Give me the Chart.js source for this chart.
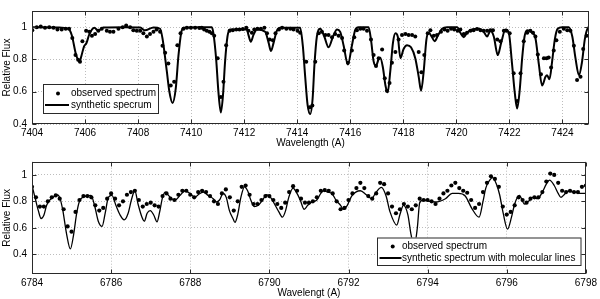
<!DOCTYPE html>
<html><head><meta charset="utf-8">
<script src="https://cdn.jsdelivr.net/npm/chart.js@4.4.0/dist/chart.umd.min.js"></script>
<style>
html,body{margin:0;padding:0;background:#fff;width:600px;height:299px;overflow:hidden}
.box{position:absolute;left:0;width:600px}
</style></head><body>
<div class="box" style="top:0;height:150px"><canvas id="c1"></canvas></div>
<div class="box" style="top:150px;height:149px"><canvas id="c2"></canvas></div>
<script>
// ---------- DATA ----------
const topXTicks = [7404,7406,7408,7410,7412,7414,7416,7418,7420,7422,7424];
const topYTicks = [0.4,0.6,0.8,1];
const topYLabels = ['0.4','0.6','0.8','1'];
const botXTicks = [6784,6786,6788,6790,6792,6794,6796,6798];
const botYTicks = [0.4,0.6,0.8,1];
const botYLabels = ['0.4','0.6','0.8','1'];

const topObsWl = [7404.01,7404.18,7404.33,7404.49,7404.65,7404.81,7404.96,7405.12,7405.27,7405.40,7405.52,7405.64,7405.74,7405.81,7405.90,7406.04,7406.16,7406.26,7406.38,7406.50,7406.63,7406.82,7406.94,7407.07,7407.26,7407.42,7407.55,7407.70,7407.82,7407.95,7408.08,7408.20,7408.33,7408.45,7408.58,7408.70,7408.83,7408.92,7409.02,7409.14,7409.23,7409.36,7409.48,7409.60,7409.71,7409.84,7409.99,7410.15,7410.31,
7410.40,7410.49,7410.59,7410.69,7410.78,7410.87,7411.00,7411.12,7411.22,7411.32,7411.45,7411.57,7411.70,7411.82,7411.95,7412.08,7412.16,7412.29,7412.38,7412.50,7412.63,7412.76,7412.86,7412.96,7413.08,7413.18,7413.31,7413.43,7413.59,7413.74,7413.86,7414.01,7414.11,7414.34,7414.47,7414.57,7414.68,7414.81,7414.93,7415.06,7415.18,7415.31,7415.43,7415.56,7415.69,7415.77,7415.91,7416.06,7416.15,7416.25,7416.38,7416.50,7416.63,7416.78,7416.88,7416.97,7417.07,7417.20,7417.30,7417.38,7417.48,7417.57,7417.70,7417.82,
7417.95,7418.08,7418.20,7418.33,7418.45,7418.58,7418.68,7418.79,7418.92,7419.02,7419.15,7419.27,7419.42,7419.55,7419.67,7419.80,7419.92,7420.05,7420.15,7420.28,7420.40,7420.53,7420.65,7420.78,7420.91,7421.03,7421.16,7421.28,7421.38,7421.54,7421.66,7421.79,7421.89,7422.01,7422.16,7422.29,7422.42,7422.54,7422.67,7422.79,7422.89,7422.98,7423.07,7423.19,7423.30,7423.40,7423.48,7423.57,7423.67,7423.77,7423.90,7424.05,7424.18,7424.30,7424.43,7424.55,7424.68,7424.78,7424.91];
const topObsFlux = [0.981,1.0,1.004,0.996,1.0,0.996,0.985,0.985,0.99,0.99,0.933,0.827,0.798,0.785,0.913,0.977,0.971,0.946,0.958,0.977,0.99,0.977,0.971,0.971,0.99,1.0,1.01,1.0,0.981,0.977,0.977,0.962,0.942,0.958,0.971,0.985,0.971,0.885,0.842,0.775,0.638,0.662,0.888,0.962,0.99,0.996,0.996,0.996,0.994,
0.996,0.985,0.977,0.971,0.962,0.946,0.808,0.567,0.662,0.888,0.977,0.981,0.985,0.985,0.988,0.996,0.977,0.965,0.985,0.99,0.99,0.996,0.962,0.923,0.919,0.962,0.985,0.996,0.99,0.99,0.985,0.977,0.965,0.785,0.504,0.515,0.785,0.962,0.971,0.952,0.952,0.938,0.958,0.946,0.933,0.856,0.779,0.856,0.938,0.981,0.99,0.99,0.977,0.923,0.827,0.76,0.808,0.862,0.683,0.606,0.654,0.779,0.846,0.923,
0.952,0.958,0.952,0.952,0.942,0.846,0.721,0.827,0.962,0.981,0.946,0.952,0.971,0.985,0.977,0.99,0.985,0.977,0.985,0.958,0.965,0.977,0.981,0.988,0.981,0.977,0.977,0.981,0.981,0.923,0.913,0.977,0.977,0.962,0.715,0.542,0.715,0.913,0.965,0.977,0.965,0.942,0.831,0.708,0.808,0.808,0.812,0.75,0.856,0.919,0.971,0.99,0.981,0.977,0.885,0.673,0.692,0.865,0.946];

const topSynWl = [7404.0,7405.0,7405.37,7405.5,7405.66,7405.79,7405.86,7405.96,7406.05,7406.16,7406.35,7406.5,7406.69,7407.5,7408.08,7408.26,7408.58,7408.83,7408.92,7409.08,7409.18,7409.30,7409.42,7409.52,7409.62,7409.71,7410.3,
7410.78,7410.84,7410.94,7411.03,7411.12,7411.20,7411.28,7411.37,7411.47,7411.60,7412.10,7412.16,7412.25,7412.35,7412.48,7412.79,7412.92,7413.01,7413.11,7413.23,7413.36,7414.11,7414.21,7414.30,7414.39,7414.49,7414.58,7414.65,7414.74,7414.87,7415.02,7415.18,7415.35,7415.50,7415.62,7415.75,7415.91,7416.06,7416.19,7416.31,7416.69,7416.78,7416.88,7416.97,7417.06,7417.13,7417.23,7417.33,7417.41,7417.51,7417.61,7417.70,7417.79,
7417.89,7418.01,7418.14,7418.29,7418.45,7418.58,7418.67,7418.77,7418.87,7418.96,7419.08,7419.18,7419.30,7419.46,7419.65,7420.03,7420.15,7420.28,7420.40,7420.59,7420.84,7421.03,7421.16,7421.28,7421.41,7421.56,7421.69,7421.85,7421.98,7422.10,7422.20,7422.29,7422.39,7422.48,7422.57,7422.67,7422.86,7422.98,7423.11,7423.23,7423.36,7423.42,7423.51,7423.61,7423.71,7423.82,7423.99,7424.24,7424.37,7424.49,7424.62,7424.74,7424.84,7424.96,7425.0];
const topSynFlux = [1.0,0.998,0.99,0.95,0.83,0.785,0.82,0.88,0.9,0.955,0.996,0.978,0.998,1.0,0.998,0.98,0.998,0.99,0.93,0.73,0.60,0.53,0.62,0.82,0.96,0.996,1.0,
1.0,0.962,0.808,0.596,0.471,0.577,0.788,0.942,0.985,0.985,0.985,0.952,0.91,0.952,0.985,0.971,0.904,0.852,0.904,0.977,0.996,0.996,0.885,0.692,0.519,0.462,0.558,0.769,0.942,0.99,0.942,0.875,0.942,0.985,0.971,0.885,0.769,0.885,0.985,1.0,1.0,0.923,0.788,0.76,0.798,0.81,0.75,0.635,0.596,0.731,0.904,0.962,0.942,
0.808,0.865,0.888,0.875,0.808,0.692,0.606,0.731,0.923,0.965,0.938,0.913,0.946,0.99,1.0,1.0,0.965,0.938,0.965,0.985,0.99,0.971,0.942,0.977,0.942,0.827,0.904,0.985,0.962,0.769,0.596,0.496,0.615,0.808,0.942,0.981,0.965,0.933,0.769,0.638,0.692,0.702,0.677,0.788,0.923,0.99,1.0,1.0,0.942,0.808,0.702,0.788,0.923,0.996,1.0];

const botObsWl = [6784.0,6784.1,6784.2,6784.3,6784.4,6784.5,6784.6,6784.7,6784.8,6784.9,6785.0,6785.1,6785.2,6785.3,6785.4,6785.5,6785.6,6785.7,6785.8,6785.9,6786.0,6786.1,6786.2,6786.3,6786.4,6786.5,6786.6,6786.7,6786.8,6786.9,6787.0,6787.1,6787.2,6787.3,6787.4,6787.5,6787.6,6787.7,6787.8,6787.9,6788.0,6788.1,6788.2,6788.3,6788.4,6788.5,6788.6,6788.7,6788.8,6788.9,6789.0,6789.1,6789.2,6789.3,6789.4,6789.5,6789.6,6789.7,6789.8,6789.9,6790.0,6790.1,6790.2,6790.3,6790.4,6790.5,6790.6,6790.7,6790.8,6790.9,6791.0,6791.1,6791.2,6791.3,6791.4,6791.5,6791.6,6791.7,6791.8,6791.9,6792.0,6792.1,6792.2,6792.3,6792.4,6792.5,6792.6,6792.7,6792.8,6792.9,6793.0,6793.1,6793.2,6793.3,6793.4,6793.5,6793.6,6793.7,6793.8,6793.9,6794.0,6794.1,6794.2,6794.3,6794.4,6794.5,6794.6,6794.7,6794.8,6794.9,6795.0,6795.1,6795.2,6795.3,6795.4,6795.5,6795.6,6795.7,6795.8,6795.9,6796.0,6796.1,6796.2,6796.3,6796.4,6796.5,6796.6,6796.7,6796.8,6796.9,6797.0,6797.1,6797.2,6797.3,6797.4,6797.5,6797.6,6797.7,6797.8,6797.9,6798.0];
const botObsFlux = [0.91,0.83,0.76,0.76,0.80,0.83,0.845,0.82,0.74,0.61,0.57,0.72,0.81,0.84,0.84,0.83,0.77,0.73,0.75,0.82,0.86,0.82,0.77,0.80,0.85,0.87,0.88,0.81,0.76,0.78,0.79,0.77,0.76,0.84,0.86,0.82,0.81,0.85,0.88,0.88,0.85,0.83,0.87,0.88,0.87,0.84,0.80,0.78,0.86,0.89,0.83,0.73,0.80,0.91,0.92,0.85,0.78,0.78,0.81,0.84,0.84,0.81,0.78,0.75,0.79,0.87,0.915,0.88,0.82,0.79,0.79,0.80,0.83,0.88,0.885,0.88,0.86,0.80,0.74,0.75,0.81,0.86,0.90,0.94,0.90,0.84,0.82,0.86,0.94,0.93,0.86,0.76,0.71,0.74,0.78,0.76,0.74,0.77,0.82,0.81,0.81,0.80,0.78,0.82,0.86,0.88,0.92,0.94,0.90,0.88,0.865,0.81,0.75,0.78,0.87,0.94,0.99,0.97,0.91,0.76,0.70,0.72,0.77,0.83,0.81,0.79,0.82,0.83,0.83,0.87,0.95,1.01,1.0,0.94,0.88,0.87,0.88,0.87,0.87,0.91,0.92];

const botSynWl = [6784.0,6784.075,6784.16,6784.23,6784.30,6784.37,6784.45,6784.53,6784.63,6784.70,6784.78,6784.87,6784.97,6785.05,6785.13,6785.2,6785.28,6785.38,6785.49,6785.58,6785.68,6785.77,6785.85,6785.93,6786.02,6786.12,6786.22,6786.33,6786.43,6786.52,6786.6,6786.68,6786.78,6786.84,6786.91,6786.99,6787.08,6787.16,6787.22,6787.3,6787.37,6787.45,6787.53,6787.62,6787.74,6787.87,6787.99,6788.12,
6788.2,6788.33,6788.45,6788.58,6788.66,6788.74,6788.83,6788.91,6788.99,6789.08,6789.13,6789.2,6789.28,6789.37,6789.45,6789.53,6789.62,6789.72,6789.83,6789.93,6790.03,6790.13,6790.24,6790.33,6790.41,6790.49,6790.6,6790.68,6790.78,6790.88,6790.97,6791.08,6791.2,6791.3,6791.37,6791.47,6791.58,6791.68,6791.8,6791.87,6791.97,6792.08,6792.3,6792.45,6792.58,6792.7,6792.83,6792.95,6793.05,6793.22,6793.3,6793.39,6793.5,6793.58,6793.66,6793.74,6793.8,6793.9,6794.05,6794.2,6794.45,6794.62,6794.78,6794.95,6795.12,6795.3,6795.4,6795.47,6795.57,6795.64,6795.74,6795.82,6795.91,6796.02,6796.12,6796.2,6796.32,6796.45,6796.55,6796.66,6796.78,6796.9,6797.0,6797.08,6797.2,6797.3,6797.37,6797.45,6797.53,6797.7,6797.85,6798.0];
const botSynFlux = [0.92,0.83,0.73,0.67,0.695,0.77,0.81,0.83,0.85,0.83,0.73,0.56,0.44,0.545,0.71,0.80,0.83,0.84,0.845,0.77,0.645,0.61,0.71,0.83,0.845,0.77,0.70,0.66,0.71,0.82,0.88,0.78,0.68,0.65,0.71,0.73,0.695,0.645,0.71,0.83,0.87,0.845,0.82,0.81,0.845,0.88,0.86,0.83,
0.85,0.87,0.845,0.82,0.795,0.81,0.86,0.83,0.73,0.67,0.64,0.70,0.83,0.91,0.88,0.81,0.76,0.77,0.81,0.85,0.83,0.78,0.72,0.68,0.73,0.83,0.90,0.87,0.81,0.74,0.77,0.795,0.81,0.86,0.88,0.87,0.86,0.81,0.77,0.74,0.77,0.84,0.88,0.85,0.82,0.87,0.905,0.84,0.72,0.62,0.70,0.77,0.70,0.55,0.46,0.60,0.79,0.81,0.80,0.795,0.82,0.86,0.86,0.84,0.745,0.68,0.80,0.90,0.96,0.98,0.93,0.85,0.71,0.59,0.68,0.78,0.845,0.78,0.80,0.83,0.82,0.87,0.93,0.96,0.92,0.86,0.83,0.85,0.875,0.87,0.86,0.86];

// ---------- RENDER ----------
Chart.defaults.font.family = '"Liberation Sans", Arial, Helvetica, sans-serif';
Chart.defaults.font.size = 10;
Chart.defaults.color = '#000';

const pts = (xs, ys) => xs.map((x, i) => ({x, y: ys[i]}));

const framePlugin = {
  id: 'frame',
  afterDatasetsDraw(chart) {
    const {ctx, chartArea: a, scales} = chart;
    ctx.save();
    ctx.strokeStyle = '#2a2a2a';
    ctx.lineWidth = 1;
    const L = Math.round(a.left) + 0.5, R = Math.round(a.right) - 0.5;
    const T = Math.round(a.top) + 0.5, B = Math.round(a.bottom) - 0.5;
    ctx.strokeRect(L, T, R - L, B - T);
    ctx.beginPath();
    scales.x.ticks.forEach(t => {
      const p = Math.round(scales.x.getPixelForValue(t.value)) + 0.5;
      ctx.moveTo(p, B); ctx.lineTo(p, B - 4);
      ctx.moveTo(p, T); ctx.lineTo(p, T + 4);
    });
    scales.y.ticks.forEach(t => {
      const p = Math.round(scales.y.getPixelForValue(t.value)) + 0.5;
      ctx.moveTo(L, p); ctx.lineTo(L + 4, p);
      ctx.moveTo(R, p); ctx.lineTo(R - 4, p);
    });
    ctx.stroke();
    ctx.restore();
  },
  afterDraw(chart) {
    const lg = chart.options.plugins.frame.legend;
    if (!lg) return;
    const ctx = chart.ctx;
    ctx.save();
    ctx.fillStyle = '#fff';
    ctx.fillRect(lg.x, lg.y, lg.w, lg.h);
    ctx.strokeStyle = '#2a2a2a';
    ctx.lineWidth = 1;
    ctx.strokeRect(lg.x + 0.5, lg.y + 0.5, lg.w, lg.h);
    ctx.font = '10px "Liberation Sans", Arial, Helvetica, sans-serif';
    ctx.fillStyle = '#000';
    ctx.textBaseline = 'middle';
    ctx.fillText(lg.t1, lg.tx, lg.r1);
    ctx.fillText(lg.t2, lg.tx, lg.r2);
    ctx.beginPath();
    ctx.arc(lg.dx, lg.r1, 2, 0, Math.PI * 2);
    ctx.fill();
    ctx.strokeStyle = '#000';
    ctx.lineWidth = lg.lw;
    ctx.beginPath();
    ctx.moveTo(lg.l1, lg.r2); ctx.lineTo(lg.l2, lg.r2);
    ctx.stroke();
    ctx.restore();
  }
};

function makeChart(id, cfg) {
  return new Chart(document.getElementById(id), {
    type: 'scatter',
    data: {
      datasets: [
        {label: cfg.obsLabel, data: pts(cfg.obsX, cfg.obsY), showLine: false,
         pointRadius: cfg.pr, pointBackgroundColor: '#000', pointBorderWidth: 0, order: 1},
        {label: cfg.synLabel, data: pts(cfg.synX, cfg.synY), showLine: true,
         borderColor: '#000', borderWidth: cfg.lw, pointRadius: 0,
         cubicInterpolationMode: 'monotone', order: 2}
      ]
    },
    plugins: [framePlugin],
    options: {
      responsive: true, maintainAspectRatio: false, animation: false,
      devicePixelRatio: 1,
      layout: {padding: {left: 0, right: 11, top: cfg.padTop, bottom: 0}},
      plugins: {legend: {display: false}, tooltip: {enabled: false}, frame: {legend: cfg.legend}},
      scales: {
        x: {
          type: 'linear', min: cfg.xMin, max: cfg.xMax,
          afterBuildTicks: s => { s.ticks = cfg.xTicks.map(v => ({value: v})); },
          afterFit: s => { s.height = cfg.xH; },
          ticks: {padding: 3, callback: v => String(v), maxRotation: 0, autoSkip: false},
          grid: {color: '#bdbdbd', drawTicks: false, lineWidth: 1},
          border: {display: false, dash: [1, 2]},
          title: {display: true, text: cfg.xTitle, padding: {top: 0, bottom: cfg.xTitlePad}, font: {size: 10}}
        },
        y: {
          type: 'linear', min: cfg.yMin, max: cfg.yMax,
          afterBuildTicks: s => { s.ticks = cfg.yTicks.map(v => ({value: v})); },
          afterFit: s => { s.width = 32; },
          ticks: {padding: 5, callback: v => cfg.yLabels[cfg.yTicks.indexOf(v)] ?? ''},
          grid: {color: '#bdbdbd', drawTicks: false, lineWidth: 1},
          border: {display: false, dash: [1, 2]},
          title: {display: true, text: 'Relative Flux', padding: {top: 1.5, bottom: 0}, font: {size: 10}}
        }
      }
    }
  });
}

makeChart('c1', {
  obsX: topObsWl, obsY: topObsFlux, synX: topSynWl, synY: topSynFlux,
  obsLabel: 'observed spectrum', synLabel: 'synthetic specrum', lw: 2, pr: 2,
  xMin: 7404, xMax: 7425, yMin: 0.4, yMax: 1.1,
  xTicks: topXTicks, yTicks: topYTicks, yLabels: topYLabels,
  xTitle: 'Wavelength (A)', xH: 26, xTitlePad: 1, padTop: 2,
  legend: {x: 43, y: 84, w: 115, h: 29, t1: 'observed spectrum', t2: 'synthetic specrum',
           tx: 71, r1: 93.5, r2: 105, dx: 58, l1: 45, l2: 69, lw: 2}
});

makeChart('c2', {
  obsX: botObsWl, obsY: botObsFlux, synX: botSynWl, synY: botSynFlux,
  obsLabel: 'observed spectrum', synLabel: 'synthetic spectrum with molecular lines', lw: 1.3, pr: 2.1,
  xMin: 6784, xMax: 6798, yMin: 0.25, yMax: 1.1,
  xTicks: botXTicks, yTicks: botYTicks, yLabels: botYLabels,
  xTitle: 'Wavelengt (A)', xH: 25, xTitlePad: 0, padTop: 11.7,
  legend: {x: 377, y: 87.5, w: 203.5, h: 27.5, t1: 'observed spectrum', t2: 'synthetic spectrum with molecular lines',
           tx: 402, r1: 96.5, r2: 108, dx: 392.7, l1: 379.5, l2: 401.5, lw: 2}
});
</script>
</body></html>
